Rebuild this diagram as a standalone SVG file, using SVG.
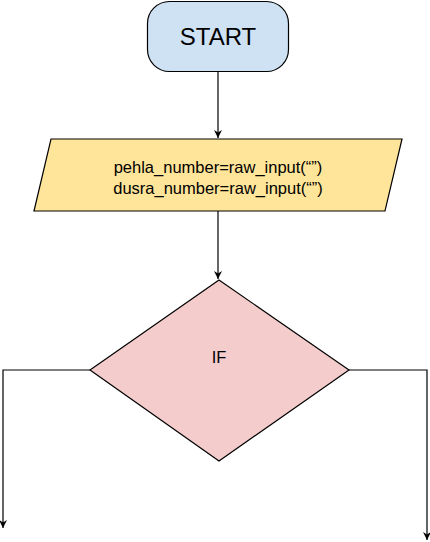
<svg xmlns="http://www.w3.org/2000/svg" width="430" height="542" viewBox="0 0 430 542">
  <style>
    .shape { stroke: #000; stroke-width: 1.2; }
    .label { font-family: "Liberation Sans", Arial, sans-serif; fill: #000; text-anchor: middle; }
    .edge { fill: none; stroke: #000; stroke-width: 1.2; }
  </style>
  <defs>
    <marker id="arrow" viewBox="0 0 10 10" refX="10" refY="5" markerWidth="8" markerHeight="8" markerUnits="userSpaceOnUse" orient="auto">
      <path d="M0,0 L10,5 L0,10 L3,5 Z" fill="#000"/>
    </marker>
  </defs>

  <g id="start">
    <rect class="shape" x="147.5" y="1.5" width="141" height="70" rx="22" ry="22" fill="#cfe2f3"/>
    <text class="label" x="218" y="45" font-size="24">START</text>
  </g>

  <g id="input">
    <polygon class="shape" points="51,139 402,139 385,211 34,211" fill="#ffe599"/>
    <text class="label" x="218" y="173" font-size="16.5">pehla_number=raw_input(“”)</text>
    <text class="label" x="218" y="193.5" font-size="16.5">dusra_number=raw_input(“”)</text>
  </g>

  <g id="decision">
    <polygon class="shape" points="219,280 349,370 219,461 90,370" fill="#f4cccc"/>
    <text class="label" x="219" y="363" font-size="16.5">IF</text>
  </g>

  <g id="connectors">
    <path class="edge" d="M218,72 V138" marker-end="url(#arrow)"/>
    <path class="edge" d="M218,211 V279" marker-end="url(#arrow)"/>
    <path class="edge" d="M90,370 H3 V528" marker-end="url(#arrow)"/>
    <path class="edge" d="M349,370 H427 V540" marker-end="url(#arrow)"/>
  </g>
</svg>
